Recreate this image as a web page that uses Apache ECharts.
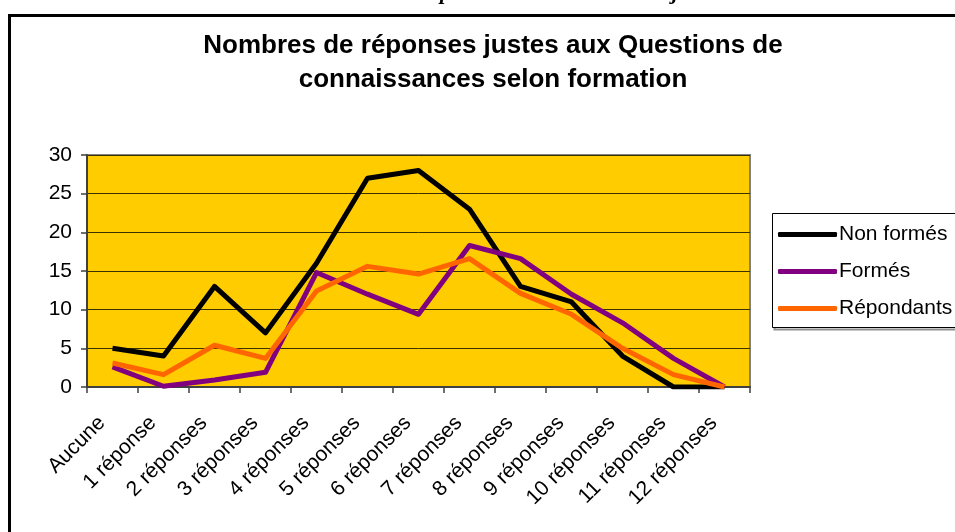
<!DOCTYPE html>
<html>
<head>
<meta charset="utf-8">
<script src="https://cdn.jsdelivr.net/npm/echarts@6/dist/echarts.min.js"></script>
<style>html,body{margin:0;padding:0;background:#fff;overflow:hidden;}#c{width:955px;height:532px;}</style>
</head>
<body>
<div id="c"></div>
<script>
const categories = ['Aucune','1 réponse','2 réponses','3 réponses','4 réponses','5 réponses','6 réponses','7 réponses','8 réponses','9 réponses','10 réponses','11 réponses','12 réponses'];
const nonFormes = [5, 4, 13, 7, 16, 27, 28, 23, 13, 11, 4, 0, 0];
const formes = [2.6, 0.1, 0.9, 1.9, 14.8, 12, 9.4, 18.3, 16.6, 12, 8.3, 3.7, 0];
const repondants = [3.1, 1.6, 5.4, 3.7, 12.4, 15.6, 14.6, 16.6, 12.1, 9.4, 5, 1.6, 0];
const seriesNames = ['Non formés', 'Formés', 'Répondants'];
const yTicks = {min: 0, max: 30, interval: 5};
const titleLines = ['Nombres de réponses justes aux Questions de', 'connaissances selon formation'];

const chart = echarts.init(document.getElementById('c'), null, {renderer: 'canvas'});
const font = 'Liberation Sans, Arial, sans-serif';
const mk = (name, data, color) => ({
  name, type: 'line', data, symbol: 'none', showSymbol: false,
  lineStyle: {color, width: 5, join: 'round'}, itemStyle: {color},
  emphasis: {disabled: true}, animation: false
});
chart.setOption({
  animation: false,
  backgroundColor: '#ffffff',
  graphic: [
    {type: 'polyline', z: 100, shape: {points: [[1100, 15.5], [9.5, 15.5], [9.5, 700]]}, style: {fill: null, stroke: '#000', lineWidth: 3}},
    {type: 'polyline', z: 0, shape: {points: [[1100, 329.5], [774.5, 329.5], [774.5, 216]]}, style: {fill: null, stroke: '#909090', lineWidth: 2}},
    {type: 'polyline', z: 0, shape: {points: [[1100, 213.5], [772.5, 213.5], [772.5, 327.5], [1100, 327.5]]}, style: {fill: '#fff', stroke: '#000', lineWidth: 1}},
    {type: 'text', x: 493, y: 29, style: {text: titleLines.join('\n'), font: 'bold 26px ' + font, fill: '#000', textAlign: 'center', lineHeight: 34}},
    {type: 'text', x: 440, y: -18, style: {text: 'p', font: 'italic bold 22px Liberation Serif, serif', fill: '#000'}},
    {type: 'text', x: 672, y: -18, style: {text: 'j', font: 'italic bold 22px Liberation Serif, serif', fill: '#000'}}
  ],
  grid: {left: 87, right: 205, top: 155, bottom: 145, show: true, backgroundColor: '#FFCC00', borderColor: '#808080', borderWidth: 2},
  legend: {
    orient: 'vertical', left: 772, top: 214, data: seriesNames,
    backgroundColor: 'transparent', borderColor: 'transparent', borderWidth: 0,
    padding: [10, 0, 8, 6], itemGap: 16, itemWidth: 59, itemHeight: 5,
    icon: 'roundRect',
    textStyle: {fontFamily: font, fontSize: 21, color: '#000', padding: [0, 0, 0, -3]}
  },
  xAxis: {
    type: 'category', data: categories, boundaryGap: true,
    axisLine: {lineStyle: {color: '#404040', width: 2}},
    axisTick: {show: true, length: 6, lineStyle: {color: '#404040', width: 1.5}},
    axisLabel: {rotate: 45, interval: 0, margin: 22, padding: [0, 15, 0, 0], fontFamily: font, fontSize: 21, color: '#000'},
    splitLine: {show: false}
  },
  yAxis: {
    type: 'value', min: yTicks.min, max: yTicks.max, interval: yTicks.interval,
    axisLine: {show: true, lineStyle: {color: '#404040', width: 2}},
    axisTick: {show: true, length: 6, lineStyle: {color: '#404040', width: 1.5}},
    axisLabel: {margin: 15, fontFamily: font, fontSize: 21, color: '#000'},
    splitLine: {show: true, lineStyle: {color: '#3a3000', width: 1}}
  },
  series: [
    mk(seriesNames[0], nonFormes, '#000000'),
    mk(seriesNames[1], formes, '#800080'),
    mk(seriesNames[2], repondants, '#FF6600')
  ]
});
</script>
</body>
</html>
